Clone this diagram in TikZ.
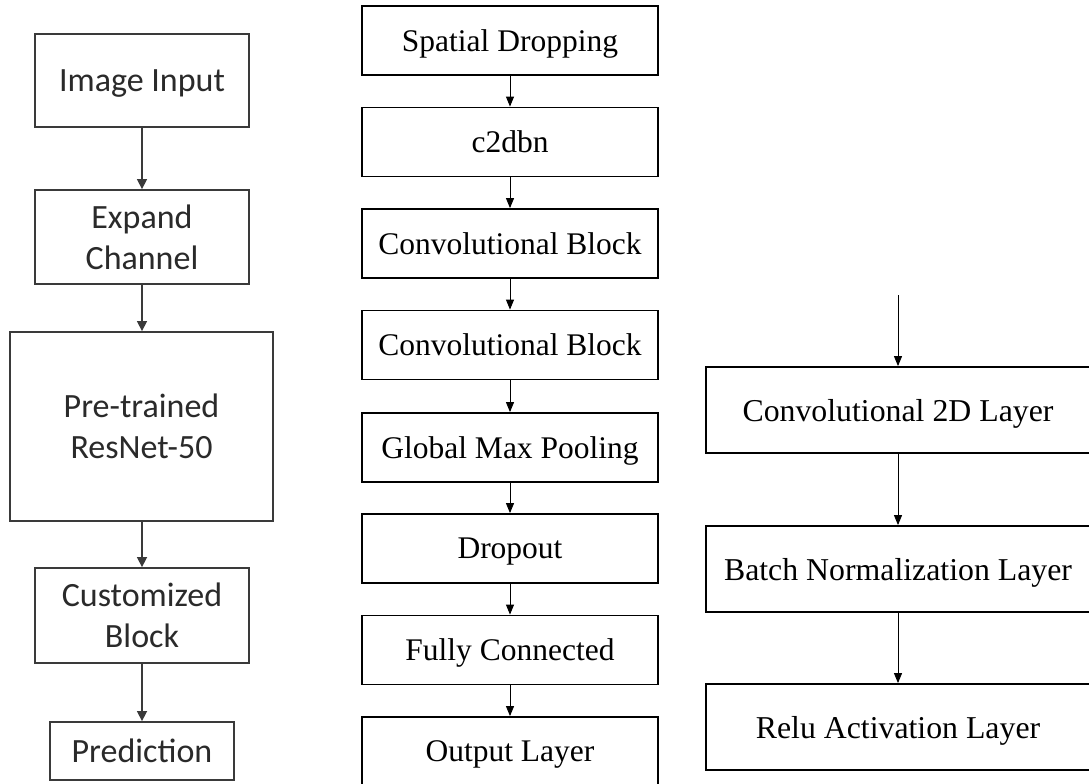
\documentclass[tikz,border=0pt]{standalone}
\usepackage{fontspec}
\setmainfont{Liberation Serif}
\newfontfamily\calib{Carlito}
\usetikzlibrary{arrows.meta}
\definecolor{lgray}{HTML}{3A3A3A}
\definecolor{ltext}{HTML}{2A2A2A}
\begin{document}
\begin{tikzpicture}[x=1bp,y=-1bp,
  lbox/.style={draw=lgray, line width=1.8bp, text=ltext, rectangle, inner sep=0pt, align=center,
     text depth=0bp, font=\calib\fontsize{34bp}{41bp}\selectfont},
  mbox/.style={draw=black, line width=1.8bp, rectangle, inner sep=0pt, align=center, text depth=0bp,
     minimum width=296bp, minimum height=69bp, font=\fontsize{31.5bp}{38bp}\selectfont},
  rbox/.style={draw=black, line width=1.8bp, rectangle, inner sep=0pt, align=center, text depth=0bp,
     minimum width=384bp, minimum height=86bp, font=\fontsize{31.8bp}{38bp}\selectfont},
  larr/.style={draw=lgray, line width=1.5bp, -{Triangle[length=10bp,width=10bp]}},
  marr/.style={draw=black, line width=0.9bp, -{Triangle[length=10bp,width=8bp]}}
]
\useasboundingbox (0,0) rectangle (1089,784);
\clip (0,0) rectangle (1089,784);
\fill[white] (0,0) rectangle (1089,784);

% left column
\node[lbox, minimum width=214bp, minimum height=93bp] (img) at (142,80.5) {Image Input};
\node[lbox, minimum width=214bp, minimum height=94bp] (exp) at (142,237) {Expand\\Channel};
\node[lbox, minimum width=263bp, minimum height=189bp] (pre) at (141.5,426.5) {Pre-trained\\ResNet-50};
\node[lbox, minimum width=214bp, minimum height=95bp] (cust) at (142,615.5) {Customized\\Block};
\node[lbox, minimum width=184bp, minimum height=58bp] (pred) at (142,751) {Prediction};
\draw[larr] (img.south) -- (exp.north);
\draw[larr] (exp.south) -- (exp.south |- pre.north);
\draw[larr] (exp.south |- pre.south) -- (cust.north);
\draw[larr] (cust.south) -- (pred.north);

% middle column
\node[mbox] (sd) at (510,40.5) {Spatial Dropping};
\node[mbox] (c2) at (510,142) {c2dbn};
\node[mbox] (cb1) at (510,243.5) {Convolutional Block};
\node[mbox] (cb2) at (510,345) {Convolutional Block};
\node[mbox] (gmp) at (510,447.5) {Global Max Pooling};
\node[mbox] (dro) at (510,548.5) {Dropout};
\node[mbox] (fc) at (510,650) {Fully Connected};
\node[mbox] (outl) at (510,751.5) {Output Layer};
\draw[marr] (sd) -- (c2);
\draw[marr] (c2) -- (cb1);
\draw[marr] (cb1) -- (cb2);
\draw[marr] (cb2) -- (gmp);
\draw[marr] (gmp) -- (dro);
\draw[marr] (dro) -- (fc);
\draw[marr] (fc) -- (outl);

% right column
\coordinate (top) at (898,295);
\node[rbox] (c2d) at (898,410) {Convolutional 2D Layer};
\node[rbox] (bn) at (898,569) {Batch Normalization Layer};
\node[rbox] (relu) at (898,727) {Relu Activation Layer};
\draw[marr] (top) -- (c2d);
\draw[marr] (c2d) -- (bn);
\draw[marr] (bn) -- (relu);
\end{tikzpicture}
\end{document}
